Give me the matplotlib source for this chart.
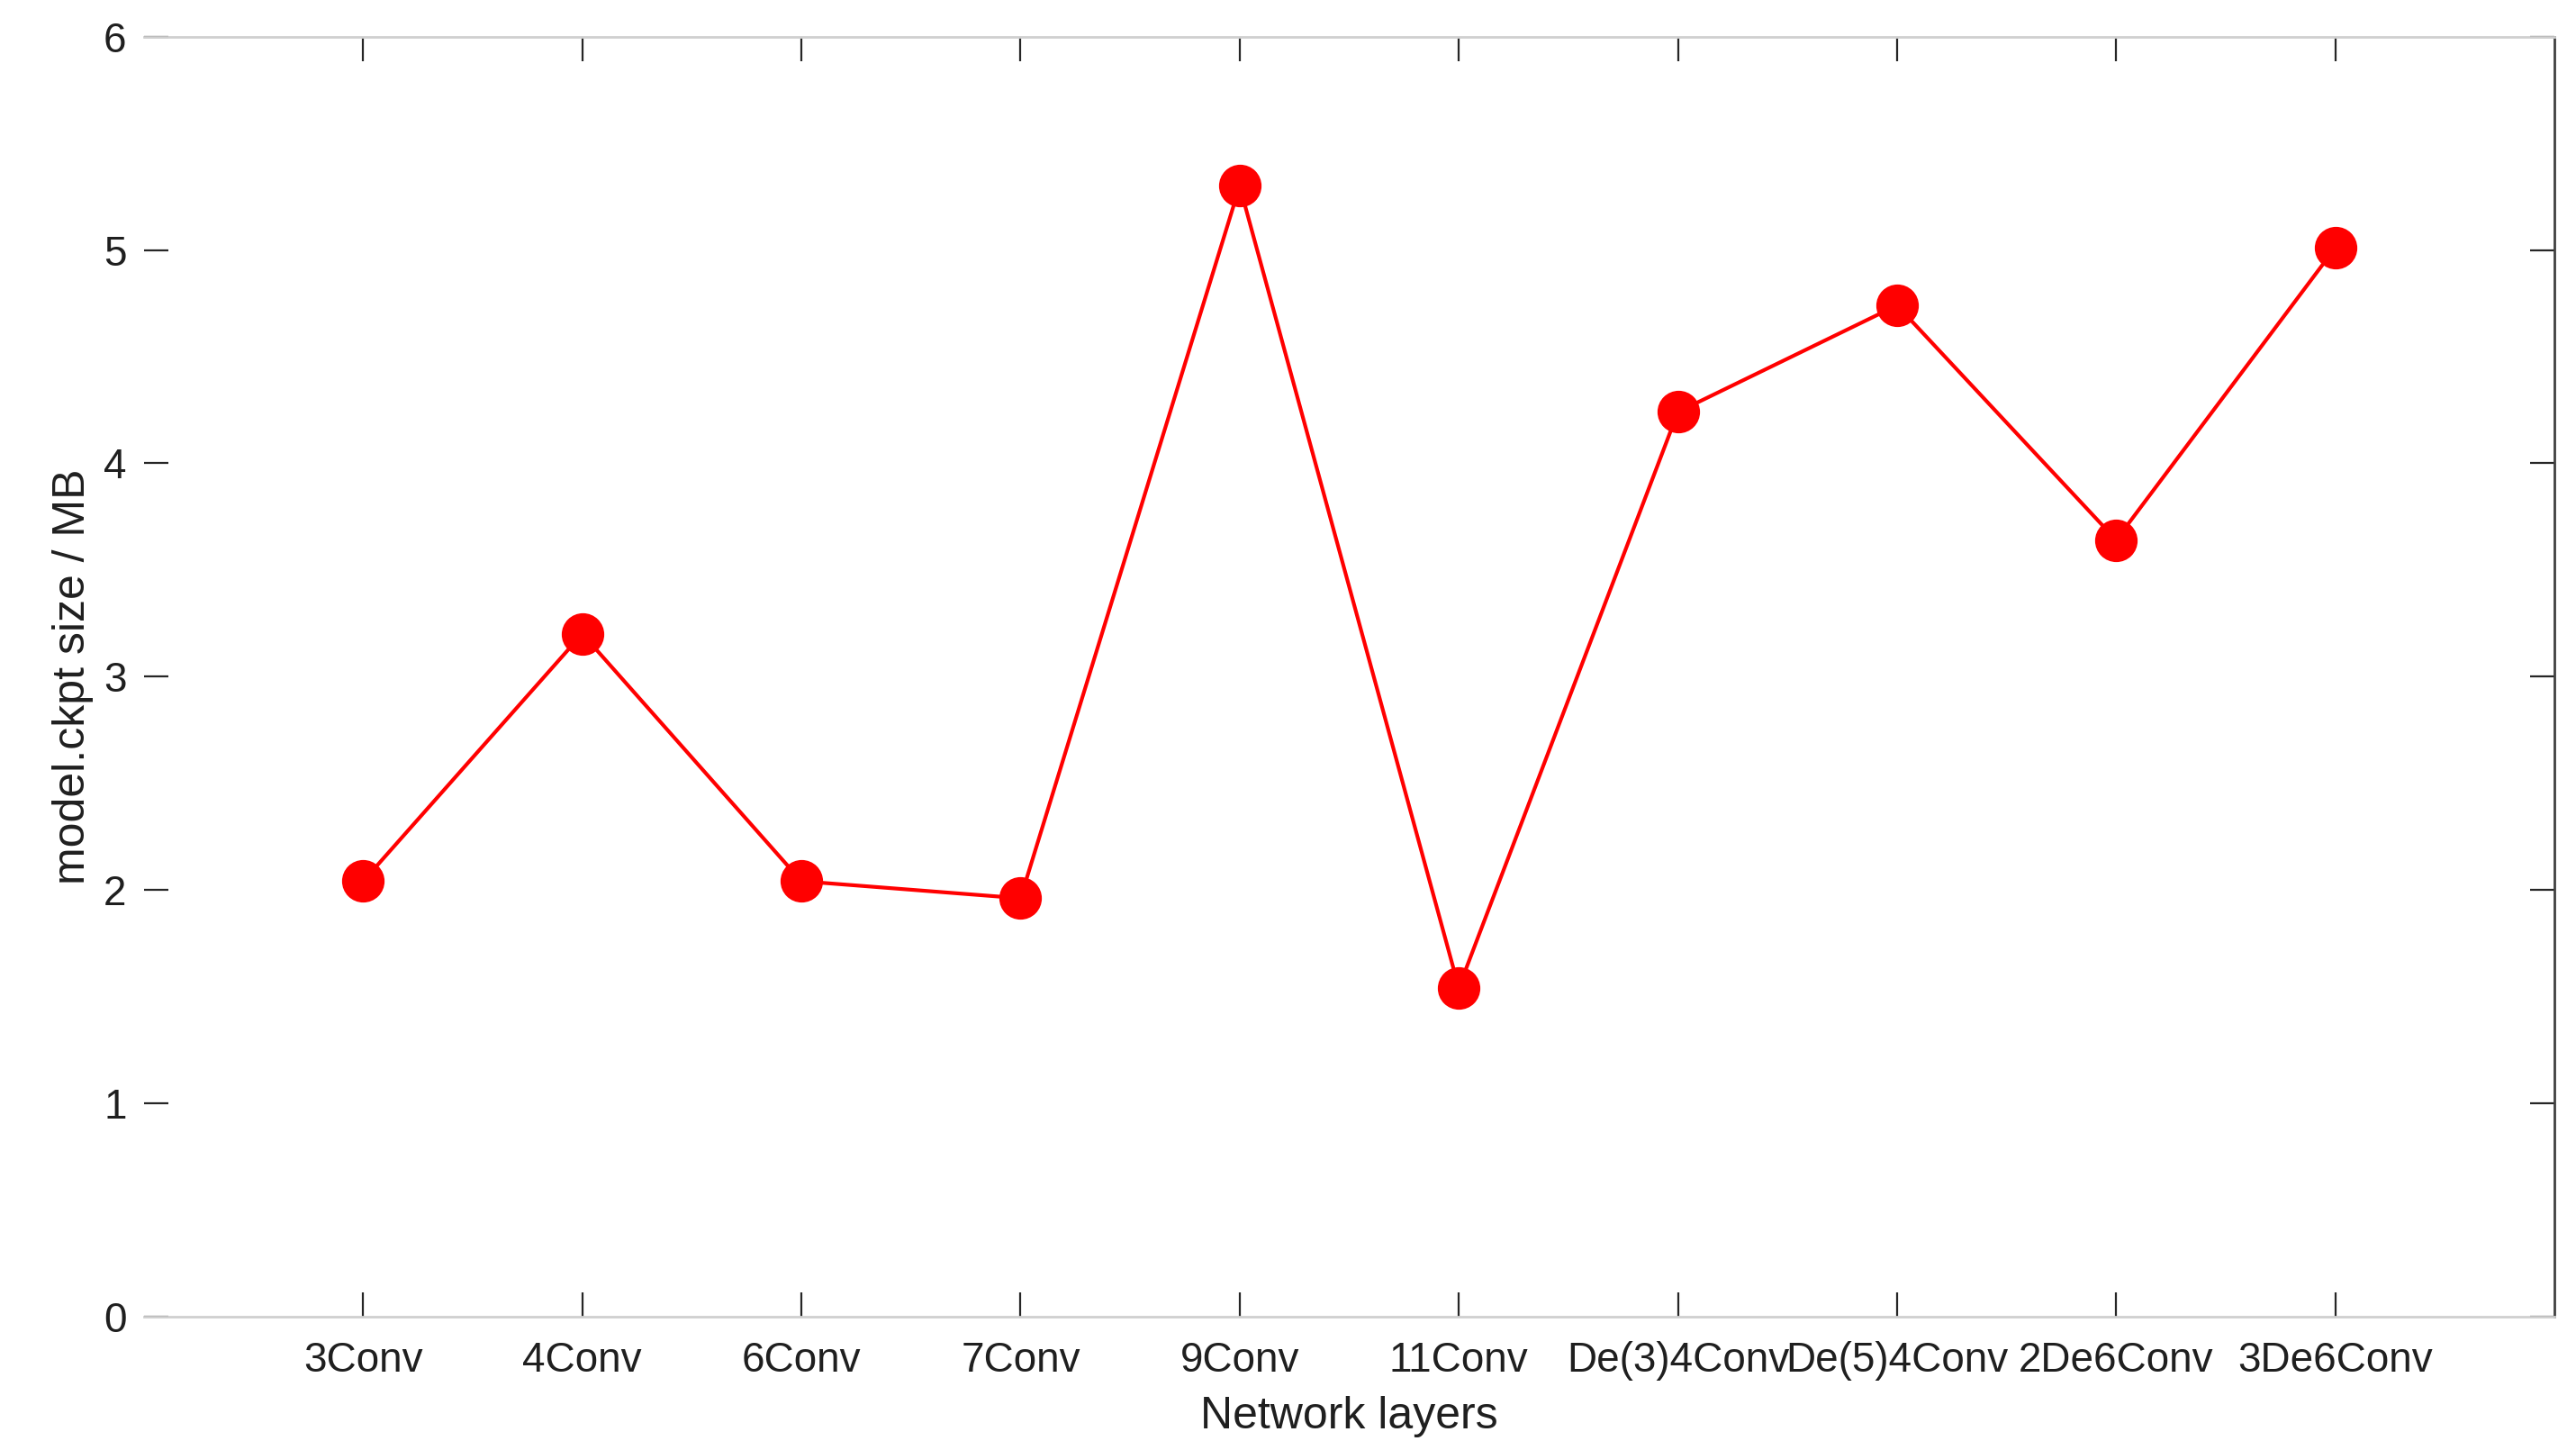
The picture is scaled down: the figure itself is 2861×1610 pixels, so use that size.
import matplotlib
matplotlib.use("Agg")
import matplotlib.pyplot as plt

categories = ["3Conv", "4Conv", "6Conv", "7Conv", "9Conv", "11Conv",
              "De(3)4Conv", "De(5)4Conv", "2De6Conv", "3De6Conv"]
sizes_mb = [2.04, 3.20, 2.04, 1.96, 5.30, 1.54, 4.24, 4.74, 3.64, 5.01]
y_ticks = [0, 1, 2, 3, 4, 5, 6]

plt.rcParams['font.family'] = ['Liberation Sans', 'DejaVu Sans']

fig = plt.figure(figsize=(2861 / 200, 1610 / 200), dpi=200)
ax = fig.add_axes([160 / 2861, 1 - 1461.5 / 1610, (2837 - 160) / 2861, (1461.5 - 40.7) / 1610])

x = list(range(1, len(categories) + 1))
ax.plot(x, sizes_mb, color='#ff0000', linewidth=1.5, marker='o',
        markersize=16, markerfacecolor='#ff0000', markeredgecolor='#ff0000')

ax.set_xlim(0, 11)
ax.set_ylim(0, 6)
ax.set_xticks(x)
ax.set_xticklabels(categories)
ax.set_yticks(y_ticks)

text_color = '#1f1f1f'
ax.tick_params(axis='both', which='both', direction='in', length=9.7, width=0.8,
               color='#262626', labelsize=16.5, labelcolor=text_color,
               top=True, right=True, pad=7)
ax.tick_params(axis='x', pad=10)

ax.spines['left'].set_visible(False)
ax.spines['top'].set_color('#cfcfcf')
ax.spines['bottom'].set_color('#cfcfcf')
ax.spines['top'].set_linewidth(1.0)
ax.spines['bottom'].set_linewidth(1.0)
ax.spines['right'].set_color('#404040')
ax.spines['right'].set_linewidth(1.0)

ax.set_xlabel('Network layers', fontsize=18, color=text_color, labelpad=6)
ax.set_ylabel('model.ckpt size / MB', fontsize=18, color=text_color, labelpad=4)

fig.savefig('out.png', dpi=200, facecolor='white')
